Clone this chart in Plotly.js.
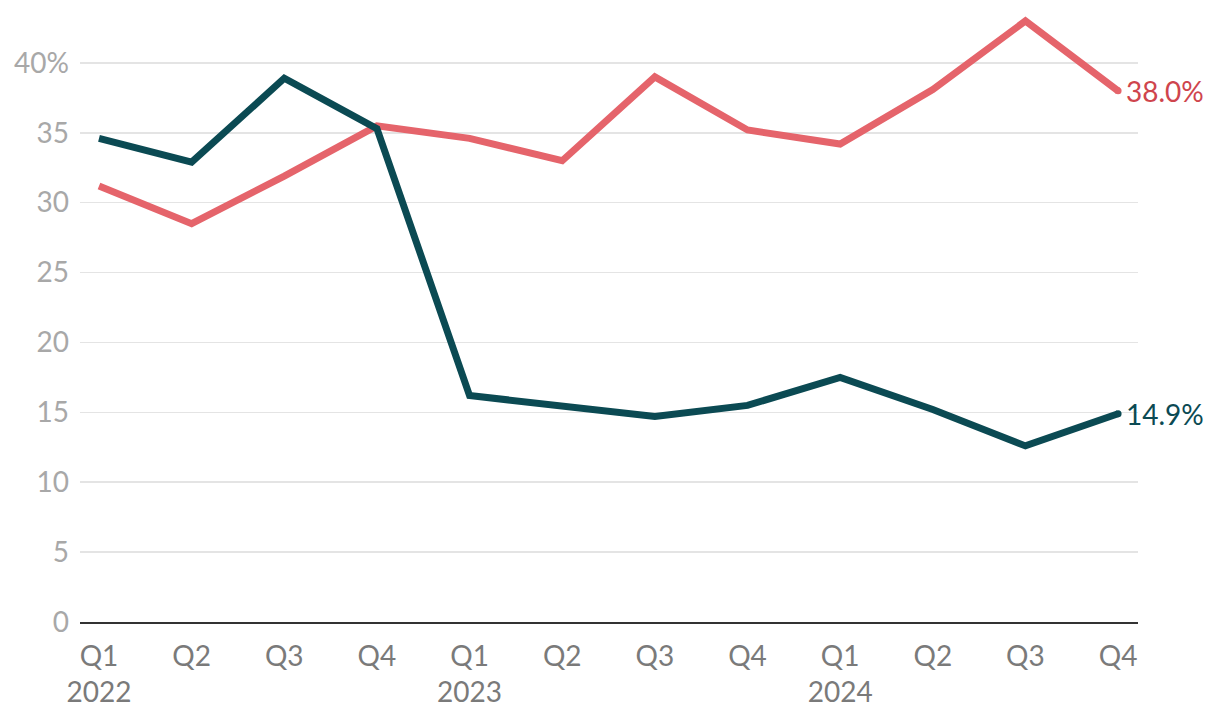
<!DOCTYPE html>
<html>
<head>
<meta charset="utf-8">
<script src="https://cdn.plot.ly/plotly-3.0.1.min.js"></script>
<style>html,body{margin:0;padding:0;background:#fff;}</style>
</head>
<body>
<div id="chart" style="width:1220px;height:722px;"></div>
<script>
const quarters = ["Q1","Q2","Q3","Q4","Q1","Q2","Q3","Q4","Q1","Q2","Q3","Q4"];
const years = ["2022","","","","2023","","","","2024","","",""];
const redSeries = [31.2, 28.5, 31.9, 35.5, 34.6, 33.0, 39.0, 35.2, 34.2, 38.1, 43.0, 38.0];
const tealSeries = [34.6, 32.9, 38.9, 35.3, 16.2, 15.5, 14.7, 15.5, 17.5, 15.2, 12.6, 14.9];
const yTickVals = [0, 5, 10, 15, 20, 25, 30, 35, 40];
const yTickText = ["0", "5", "10", "15", "20", "25", "30", "35", "40%"];

const idx = quarters.map((_, i) => i);
const tickText = quarters.map((q, i) => years[i] ? q + "<br>" + years[i] : q);

const RED = "#e5646b", TEAL = "#0b4a53";
const FONT = "Lato, 'Source Sans Pro', 'Noto Sans', sans-serif";

const traces = [
  {x: idx, y: redSeries, type: "scatter", mode: "lines", line: {color: RED, width: 7}, hoverinfo: "skip", cliponaxis: false},
  {x: idx, y: tealSeries, type: "scatter", mode: "lines", line: {color: TEAL, width: 7}, hoverinfo: "skip", cliponaxis: false},
  {x: [idx[idx.length-1]], y: [redSeries[redSeries.length-1]], type: "scatter", mode: "markers", marker: {color: RED, size: 7}, hoverinfo: "skip", cliponaxis: false},
  {x: [idx[idx.length-1]], y: [tealSeries[tealSeries.length-1]], type: "scatter", mode: "markers", marker: {color: TEAL, size: 7}, hoverinfo: "skip", cliponaxis: false}
];

const last = idx.length - 1;
const layout = {
  width: 1220, height: 722,
  margin: {l: 80, r: 82, t: 7, b: 100},
  paper_bgcolor: "#fff", plot_bgcolor: "#fff",
  showlegend: false,
  font: {family: FONT},
  xaxis: {
    range: [-0.205, 11.215],
    tickvals: idx, ticktext: tickText,
    showgrid: false, zeroline: false,
    showline: true, linecolor: "#333", linewidth: 2,
    ticks: "", ticklabelstandoff: 8,
    tickfont: {size: 28, color: "#7a7a7a", family: FONT},
    fixedrange: true
  },
  yaxis: {
    range: [0, 44],
    tickvals: yTickVals, ticktext: yTickText,
    showgrid: true, gridcolor: "#e4e4e4", gridwidth: 1.5,
    zeroline: false, showline: false,
    ticks: "", ticklabelstandoff: 10,
    tickfont: {size: 28, color: "#a8a8a8", family: FONT},
    fixedrange: true
  },
  annotations: [
    {x: last, y: redSeries[last], xref: "x", yref: "y", text: redSeries[last].toFixed(1) + "%",
     showarrow: false, xanchor: "left", yanchor: "middle", xshift: 6,
     font: {size: 28, color: "#cf454d", family: FONT}},
    {x: last, y: tealSeries[last], xref: "x", yref: "y", text: tealSeries[last].toFixed(1) + "%",
     showarrow: false, xanchor: "left", yanchor: "middle", xshift: 6,
     font: {size: 28, color: TEAL, family: FONT}}
  ]
};

Plotly.newPlot("chart", traces, layout, {displayModeBar: false, staticPlot: true});
</script>
</body>
</html>
